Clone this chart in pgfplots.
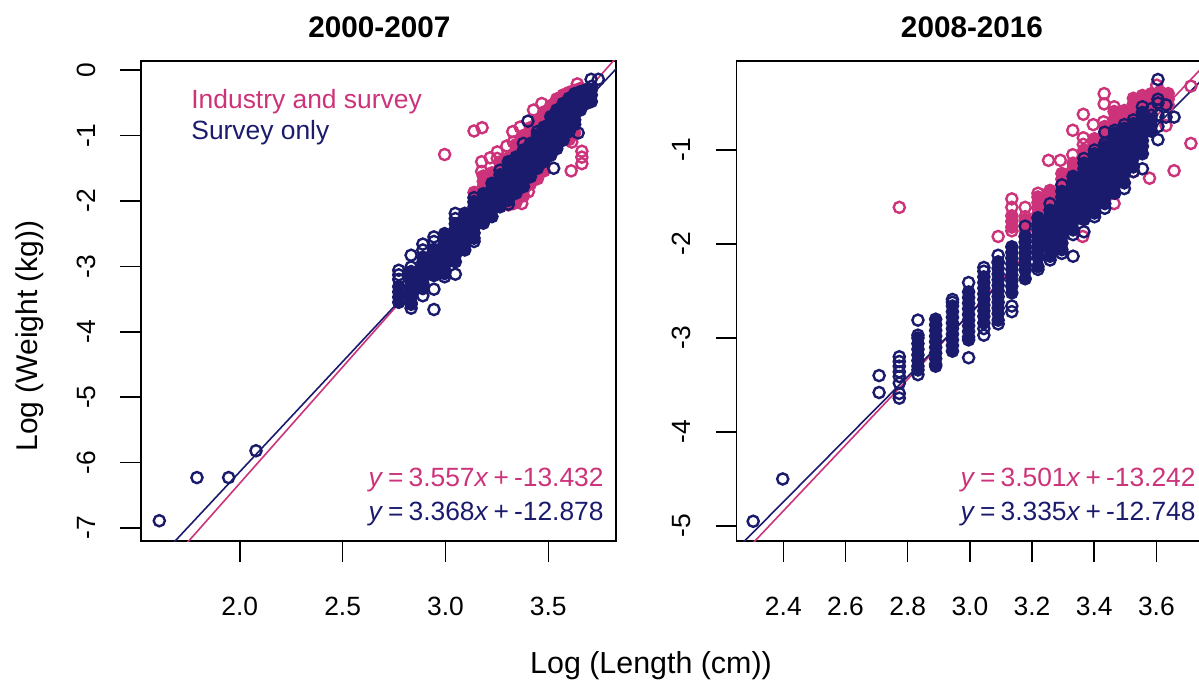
\documentclass[border=0pt]{standalone}
\usepackage{fontspec}
\setmainfont{Liberation Sans}
\usepackage{pgfplots}
\pgfplotsset{compat=1.18}
\definecolor{pinkc}{RGB}{204,51,122}
\definecolor{navyc}{RGB}{27,27,110}
\pgfplotsset{
  panel/.style={
    scale only axis, clip=true,
    axis line style={line width=0.8pt}, every tick/.style={black,line width=0.8pt},
    tick align=outside, tick pos=left, major tick length=10.3pt,
    tick label style={font=\fontsize{13.2}{16}\selectfont},
    yticklabel style={rotate=90,anchor=base,yshift=12.5pt,inner sep=0pt},
    xticklabel style={anchor=base,yshift=-27pt,inner sep=0pt},
  },
  ring/.style={only marks,mark=o,mark size=2.8pt,mark options={line width=1.2pt,draw=#1}},
  core/.style={only marks,mark=*,mark size=2.8pt,mark options={line width=1.2pt,draw=#1,fill=#1}},
  fit/.style={no marks,line width=0.8pt,color=#1},
}
\newcommand{\eqn}[2]{\textit{y}\hspace{2.5pt}=\hspace{2.5pt}#1\textit{x}\hspace{2.5pt}+\hspace{2.5pt}#2}
\begin{document}
\begin{tikzpicture}
\useasboundingbox (0,0) rectangle (599.5pt,341pt);
\clip (0,0) rectangle (599.5pt,341pt);

% 2000-2007
\begin{axis}[panel,at={(70.5pt,70.5pt)},anchor=south west,width=237.5pt,height=240pt,
  xmin=1.52,xmax=3.829,ymin=-7.2,ymax=0.14,
  xtick={2,2.5,3,3.5},xticklabels={2.0,2.5,3.0,3.5},
  ytick={-7,-6,-5,-4,-3,-2,-1,0},yticklabels={-7,-6,-5,-4,-3,-2,-1,0}]
\addplot[core=pinkc] coordinates {
 (3.139,-1.87)(3.139,-1.95)(3.139,-2.03)
 (3.184,-1.62)(3.184,-1.70)(3.184,-1.78)(3.184,-1.86)(3.184,-1.94)
 (3.226,-1.57)(3.226,-1.65)(3.226,-1.73)(3.226,-1.81)(3.226,-1.89)
 (3.265,-1.42)(3.265,-1.50)(3.265,-1.58)(3.265,-1.66)(3.265,-1.74)
 (3.306,-1.34)(3.306,-1.42)(3.306,-1.50)(3.306,-1.58)(3.306,-2.00)(3.306,-2.06)
 (3.343,-1.14)(3.343,-1.22)(3.343,-1.30)(3.343,-1.38)(3.343,-1.46)(3.343,-1.94)(3.343,-2.02)
 (3.379,-1.00)(3.379,-1.08)(3.379,-1.16)(3.379,-1.24)(3.379,-1.32)(3.379,-1.84)(3.379,-1.92)
 (3.413,-0.88)(3.413,-0.96)(3.413,-1.04)(3.413,-1.12)(3.413,-1.20)(3.413,-1.74)
 (3.447,-0.77)(3.447,-0.85)(3.447,-0.93)(3.447,-1.01)(3.447,-1.58)(3.447,-1.66)
 (3.479,-0.64)(3.479,-0.72)(3.479,-0.80)(3.479,-0.88)(3.479,-1.46)(3.479,-1.54)
 (3.512,-0.54)(3.512,-0.62)(3.512,-0.70)(3.512,-0.78)
 (3.541,-0.44)(3.541,-0.52)(3.541,-0.60)(3.541,-0.68)
 (3.572,-0.38)(3.572,-0.46)(3.572,-0.54)(3.572,-0.62)
 (3.601,-0.34)(3.601,-0.42)(3.601,-0.50)(3.601,-1.00)(3.601,-1.06)
 (3.628,-0.31)(3.628,-0.39)(3.628,-0.47)(3.628,-0.96)
 (3.656,-0.28)(3.656,-0.36)(3.656,-0.44)
};
\addplot[ring=pinkc] coordinates {
 (2.996,-1.29)(3.139,-0.93)(3.178,-0.88)(3.327,-0.94)(3.176,-1.40)(3.176,-1.55)
 (3.217,-1.34)(3.252,-1.25)(3.252,-1.35)(3.298,-1.16)(3.330,-1.10)(3.363,-0.87)
 (3.428,-0.61)(3.468,-0.51)(3.641,-0.21)(3.614,-1.10)(3.663,-1.24)(3.663,-1.33)
 (3.663,-1.43)(3.611,-1.54)(3.403,-1.86)(3.371,-2.04)(3.330,-2.04)(3.298,-1.94)
};
\addplot[fit=pinkc] coordinates {(1.6,-7.741)(3.9,0.440)};
\addplot[fit=navyc] coordinates {(1.6,-7.489)(3.9,0.257)};
\addplot[core=navyc] coordinates {
 (2.773,-3.31)(2.773,-3.39)(2.773,-3.47)(2.773,-3.55)
 (2.833,-3.08)(2.833,-3.16)(2.833,-3.24)(2.833,-3.32)(2.833,-3.40)(2.833,-3.48)(2.833,-3.56)
 (2.890,-2.86)(2.890,-2.94)(2.890,-3.02)(2.890,-3.10)(2.890,-3.18)(2.890,-3.26)(2.890,-3.34)
 (2.944,-2.74)(2.944,-2.82)(2.944,-2.90)(2.944,-2.98)(2.944,-3.06)(2.944,-3.14)
 (2.996,-2.50)(2.996,-2.58)(2.996,-2.66)(2.996,-2.74)(2.996,-2.82)(2.996,-2.90)(2.996,-2.98)(2.996,-3.06)(2.996,-3.11)
 (3.048,-2.35)(3.048,-2.43)(3.048,-2.51)(3.048,-2.59)(3.048,-2.67)(3.048,-2.75)(3.048,-2.83)(3.048,-2.93)
 (3.094,-2.19)(3.094,-2.27)(3.094,-2.35)(3.094,-2.43)(3.094,-2.51)(3.094,-2.59)(3.094,-2.67)(3.094,-2.75)
 (3.139,-2.01)(3.139,-2.09)(3.139,-2.17)(3.139,-2.25)(3.139,-2.33)(3.139,-2.41)(3.139,-2.49)(3.139,-2.57)
 (3.184,-1.89)(3.184,-1.97)(3.184,-2.05)(3.184,-2.13)(3.184,-2.21)(3.184,-2.34)(3.184,-2.28)
 (3.226,-1.73)(3.226,-1.81)(3.226,-1.89)(3.226,-1.97)(3.226,-2.05)(3.226,-2.13)(3.226,-2.24)
 (3.265,-1.60)(3.265,-1.68)(3.265,-1.76)(3.265,-1.84)(3.265,-1.92)(3.265,-2.00)(3.265,-2.09)
 (3.306,-1.43)(3.306,-1.51)(3.306,-1.59)(3.306,-1.67)(3.306,-1.75)(3.306,-1.83)(3.306,-1.91)(3.306,-1.99)
 (3.343,-1.33)(3.343,-1.41)(3.343,-1.49)(3.343,-1.57)(3.343,-1.65)(3.343,-1.73)(3.343,-1.81)(3.343,-1.88)
 (3.379,-1.22)(3.379,-1.30)(3.379,-1.38)(3.379,-1.46)(3.379,-1.54)(3.379,-1.62)(3.379,-1.70)(3.379,-1.78)
 (3.413,-1.12)(3.413,-1.20)(3.413,-1.28)(3.413,-1.36)(3.413,-1.44)(3.413,-1.52)(3.413,-1.63)
 (3.447,-0.99)(3.447,-1.07)(3.447,-1.15)(3.447,-1.23)(3.447,-1.31)(3.447,-1.39)(3.447,-1.50)
 (3.479,-0.87)(3.479,-0.95)(3.479,-1.03)(3.479,-1.11)(3.479,-1.19)(3.479,-1.27)(3.479,-1.40)
 (3.512,-0.71)(3.512,-0.79)(3.512,-0.87)(3.512,-0.95)(3.512,-1.03)(3.512,-1.11)(3.512,-1.19)(3.512,-1.30)
 (3.541,-0.61)(3.541,-0.69)(3.541,-0.77)(3.541,-0.85)(3.541,-0.93)(3.541,-1.01)(3.541,-1.09)(3.541,-1.20)
 (3.572,-0.51)(3.572,-0.59)(3.572,-0.67)(3.572,-0.75)(3.572,-0.83)(3.572,-0.91)(3.572,-0.99)(3.572,-1.07)
 (3.601,-0.43)(3.601,-0.51)(3.601,-0.59)(3.601,-0.67)(3.601,-0.75)(3.601,-0.83)(3.601,-0.94)
 (3.628,-0.36)(3.628,-0.44)(3.628,-0.52)(3.628,-0.60)(3.628,-0.68)(3.628,-0.76)(3.628,-0.83)
 (3.656,-0.33)(3.656,-0.41)(3.656,-0.49)(3.656,-0.57)(3.656,-0.61)
 (3.684,-0.30)(3.684,-0.38)(3.684,-0.46)(3.684,-0.51)
 (3.709,-0.30)(3.709,-0.38)(3.709,-0.48)
};
\addplot[ring=navyc] coordinates {
 (2.773,-3.06)(2.773,-3.13)(2.773,-3.20)(2.833,-2.83)(2.833,-3.01)(2.833,-3.64)(2.833,-3.58)
 (2.890,-2.66)(2.890,-2.75)(2.890,-3.45)(2.944,-2.55)(2.944,-2.62)(2.944,-3.35)(2.944,-3.66)
 (2.996,-3.16)(3.048,-2.19)(3.048,-2.27)(3.048,-3.12)(3.139,-1.95)(3.139,-2.62)
 (3.265,-1.53)(3.306,-1.40)(3.306,-2.05)(3.379,-1.12)(3.401,-0.78)(3.447,-0.94)
 (3.526,-1.50)(3.645,-0.96)(3.708,-0.14)(3.743,-0.14)(3.709,-0.25)
 (1.609,-6.89)(1.792,-6.23)(1.946,-6.23)(2.079,-5.82)
};
\end{axis}

% 2008-2016
\begin{axis}[panel,at={(368.2pt,70.5pt)},anchor=south west,width=233.3pt,height=240pt,
  xmin=2.249,xmax=3.75,ymin=-5.16,ymax=-0.053,
  xtick={2.4,2.6,2.8,3.0,3.2,3.4,3.6},xticklabels={2.4,2.6,2.8,3.0,3.2,3.4,3.6},
  ytick={-5,-4,-3,-2,-1},yticklabels={-5,-4,-3,-2,-1}]
\addplot[core=pinkc] coordinates {
 (3.135,-1.70)(3.135,-1.76)(3.135,-1.82)
 (3.178,-1.74)(3.178,-1.80)(3.178,-1.86)(3.178,-1.92)
 (3.219,-1.50)(3.219,-1.56)(3.219,-1.62)(3.219,-1.68)(3.219,-1.74)(3.219,-1.80)
 (3.258,-1.43)(3.258,-1.49)(3.258,-1.55)(3.258,-1.61)(3.258,-1.67)
 (3.296,-1.25)(3.296,-1.31)(3.296,-1.37)(3.296,-1.43)(3.296,-1.49)
 (3.332,-1.14)(3.332,-1.20)(3.332,-1.26)(3.332,-1.32)
 (3.367,-1.00)(3.367,-1.06)(3.367,-1.12)(3.367,-1.18)
 (3.401,-0.88)(3.401,-0.94)(3.401,-1.00)(3.401,-1.06)
 (3.434,-0.75)(3.434,-0.81)(3.434,-0.87)(3.434,-0.93)(3.434,-0.99)
 (3.466,-0.60)(3.466,-0.66)(3.466,-0.72)(3.466,-0.78)(3.466,-0.84)
 (3.497,-0.58)(3.497,-0.64)(3.497,-0.70)(3.497,-0.76)
 (3.526,-0.45)(3.526,-0.51)(3.526,-0.57)(3.526,-0.63)(3.526,-0.69)
 (3.555,-0.42)(3.555,-0.48)(3.555,-0.54)(3.555,-0.60)
 (3.584,-0.40)(3.584,-0.46)(3.584,-0.52)(3.584,-0.58)
 (3.611,-0.38)(3.611,-0.44)(3.611,-0.50)
 (3.638,-0.40)(3.638,-0.46)(3.638,-0.52)
};
\addplot[ring=pinkc] coordinates {
 (2.773,-1.61)(3.091,-1.92)(3.135,-1.52)(3.135,-1.61)(3.135,-1.86)(3.178,-1.61)(3.178,-1.71)
 (3.219,-1.46)(3.253,-1.46)(3.253,-1.11)(3.291,-1.11)(3.331,-1.05)(3.365,-0.94)(3.365,-0.87)
 (3.331,-0.79)(3.365,-0.62)(3.397,-0.73)(3.430,-0.70)(3.432,-0.40)(3.432,-0.51)
 (3.464,-0.54)(3.464,-0.59)(3.363,-1.92)(3.464,-1.57)(3.578,-1.30)(3.657,-1.22)
 (3.711,-0.93)(3.711,-0.32)(3.631,-0.74)(3.631,-0.42)(3.601,-0.31)(3.526,-1.23)(3.548,-0.45)
};
\addplot[fit=pinkc] coordinates {(2.2,-5.540)(3.8,0.062)};
\addplot[fit=navyc] coordinates {(2.2,-5.411)(3.8,-0.075)};
\addplot[core=navyc] coordinates {
 (2.833,-3.00)(2.833,-3.06)(2.833,-3.12)(2.833,-3.18)(2.833,-3.24)(2.833,-3.30)(2.833,-3.34)
 (2.890,-2.80)(2.890,-2.86)(2.890,-2.92)(2.890,-2.98)(2.890,-3.04)(2.890,-3.10)(2.890,-3.16)(2.890,-3.22)(2.890,-3.28)
 (2.944,-2.66)(2.944,-2.72)(2.944,-2.78)(2.944,-2.84)(2.944,-2.90)(2.944,-2.96)(2.944,-3.02)(2.944,-3.08)(2.944,-3.14)
 (2.996,-2.51)(2.996,-2.57)(2.996,-2.63)(2.996,-2.69)(2.996,-2.75)(2.996,-2.81)(2.996,-2.87)(2.996,-2.93)(2.996,-2.99)(2.996,-3.02)
 (3.045,-2.35)(3.045,-2.41)(3.045,-2.47)(3.045,-2.53)(3.045,-2.59)(3.045,-2.65)(3.045,-2.71)(3.045,-2.77)(3.045,-2.84)
 (3.091,-2.20)(3.091,-2.26)(3.091,-2.32)(3.091,-2.38)(3.091,-2.44)(3.091,-2.50)(3.091,-2.56)(3.091,-2.62)(3.091,-2.68)(3.091,-2.74)(3.091,-2.81)
 (3.135,-2.03)(3.135,-2.09)(3.135,-2.15)(3.135,-2.21)(3.135,-2.27)(3.135,-2.33)(3.135,-2.39)(3.135,-2.45)(3.135,-2.52)
 (3.178,-1.92)(3.178,-1.98)(3.178,-2.04)(3.178,-2.10)(3.178,-2.16)(3.178,-2.22)(3.178,-2.28)(3.178,-2.37)
 (3.219,-1.72)(3.219,-1.78)(3.219,-1.84)(3.219,-1.90)(3.219,-1.96)(3.219,-2.02)(3.219,-2.08)(3.219,-2.14)(3.219,-2.24)
 (3.258,-1.64)(3.258,-1.70)(3.258,-1.76)(3.258,-1.82)(3.258,-1.88)(3.258,-1.94)(3.258,-2.00)(3.258,-2.06)(3.258,-2.13)
 (3.296,-1.44)(3.296,-1.50)(3.296,-1.56)(3.296,-1.62)(3.296,-1.68)(3.296,-1.74)(3.296,-1.80)(3.296,-1.86)(3.296,-1.92)(3.296,-2.06)(3.296,-1.99)
 (3.332,-1.28)(3.332,-1.34)(3.332,-1.40)(3.332,-1.46)(3.332,-1.52)(3.332,-1.58)(3.332,-1.64)(3.332,-1.70)(3.332,-1.76)(3.332,-1.85)
 (3.367,-1.14)(3.367,-1.20)(3.367,-1.26)(3.367,-1.32)(3.367,-1.38)(3.367,-1.44)(3.367,-1.50)(3.367,-1.56)(3.367,-1.62)(3.367,-1.68)(3.367,-1.74)
 (3.401,-1.04)(3.401,-1.10)(3.401,-1.16)(3.401,-1.22)(3.401,-1.28)(3.401,-1.34)(3.401,-1.40)(3.401,-1.46)(3.401,-1.52)(3.401,-1.58)(3.401,-1.67)
 (3.434,-0.96)(3.434,-1.02)(3.434,-1.08)(3.434,-1.14)(3.434,-1.20)(3.434,-1.26)(3.434,-1.32)(3.434,-1.38)(3.434,-1.44)(3.434,-1.57)(3.434,-1.50)
 (3.466,-0.82)(3.466,-0.88)(3.466,-0.94)(3.466,-1.00)(3.466,-1.06)(3.466,-1.12)(3.466,-1.18)(3.466,-1.24)(3.466,-1.30)(3.466,-1.36)(3.466,-1.46)
 (3.497,-0.77)(3.497,-0.83)(3.497,-0.89)(3.497,-0.95)(3.497,-1.01)(3.497,-1.07)(3.497,-1.13)(3.497,-1.19)(3.497,-1.25)(3.497,-1.35)
 (3.526,-0.72)(3.526,-0.78)(3.526,-0.84)(3.526,-0.90)(3.526,-0.96)(3.526,-1.02)(3.526,-1.08)(3.526,-1.18)
 (3.555,-0.60)(3.555,-0.66)(3.555,-0.72)(3.555,-0.78)(3.555,-0.84)(3.555,-0.90)(3.555,-0.96)(3.555,-1.04)
 (3.584,-0.68)(3.584,-0.74)(3.584,-0.80)
};
\addplot[ring=navyc] coordinates {
 (2.303,-4.95)(2.398,-4.50)(2.708,-3.40)(2.708,-3.58)
 (2.773,-3.20)(2.773,-3.25)(2.773,-3.30)(2.773,-3.36)(2.773,-3.41)(2.773,-3.48)(2.773,-3.59)(2.773,-3.64)
 (2.833,-2.81)(2.833,-2.97)(2.833,-3.39)(2.890,-3.30)(2.944,-2.59)(2.944,-2.62)
 (2.996,-2.41)(2.996,-3.21)(3.045,-2.25)(3.045,-2.29)(3.045,-2.90)(3.045,-2.97)
 (3.091,-2.12)(3.091,-2.19)(3.091,-2.85)(3.135,-2.66)(3.135,-2.72)(3.178,-1.81)
 (3.219,-2.27)(3.258,-1.57)(3.258,-2.17)(3.296,-1.37)(3.296,-2.10)(3.332,-1.90)(3.332,-2.13)
 (3.367,-1.09)(3.367,-1.87)(3.401,-1.00)(3.401,-1.71)(3.434,-0.81)(3.434,-0.93)
 (3.434,-1.62)(3.466,-0.79)(3.497,-0.73)(3.497,-1.41)(3.526,-0.68)(3.526,-1.23)
 (3.555,-0.54)(3.555,-1.20)(3.584,-0.56)(3.584,-0.63)(3.605,-0.25)(3.605,-0.46)
 (3.605,-0.50)(3.605,-0.63)(3.605,-0.75)(3.605,-0.89)(3.631,-0.52)(3.631,-0.65)(3.657,-0.65)
};
\end{axis}

\node[anchor=base,font=\fontsize{14.85}{17}\selectfont\bfseries] at (189.7pt,322.5pt) {2000-2007};
\node[anchor=base,font=\fontsize{14.85}{17}\selectfont\bfseries] at (486pt,322.5pt) {2008-2016};
\node[anchor=base,font=\fontsize{15.2}{18}\selectfont] at (325.5pt,4.5pt) {Log (Length (cm))};
\node[anchor=base,rotate=90,font=\fontsize{15}{18}\selectfont,inner sep=0pt] at (18.5pt,173pt) {Log (Weight (kg))};
\node[anchor=base west,inner sep=0pt,text=pinkc,font=\fontsize{13.2}{16}\selectfont] at (95.5pt,287pt) {Industry and survey};
\node[anchor=base west,inner sep=0pt,text=navyc,font=\fontsize{13.2}{16}\selectfont] at (95.5pt,271.5pt) {Survey only};
\node[anchor=base east,inner sep=0pt,text=pinkc,font=\fontsize{13.2}{16}\selectfont] at (302pt,98pt) {\eqn{3.557}{-13.432}};
\node[anchor=base east,inner sep=0pt,text=navyc,font=\fontsize{13.2}{16}\selectfont] at (302pt,81pt) {\eqn{3.368}{-12.878}};
\node[anchor=base east,inner sep=0pt,text=pinkc,font=\fontsize{13.2}{16}\selectfont] at (598pt,98pt) {\eqn{3.501}{-13.242}};
\node[anchor=base east,inner sep=0pt,text=navyc,font=\fontsize{13.2}{16}\selectfont] at (598pt,81pt) {\eqn{3.335}{-12.748}};
\end{tikzpicture}
\end{document}
